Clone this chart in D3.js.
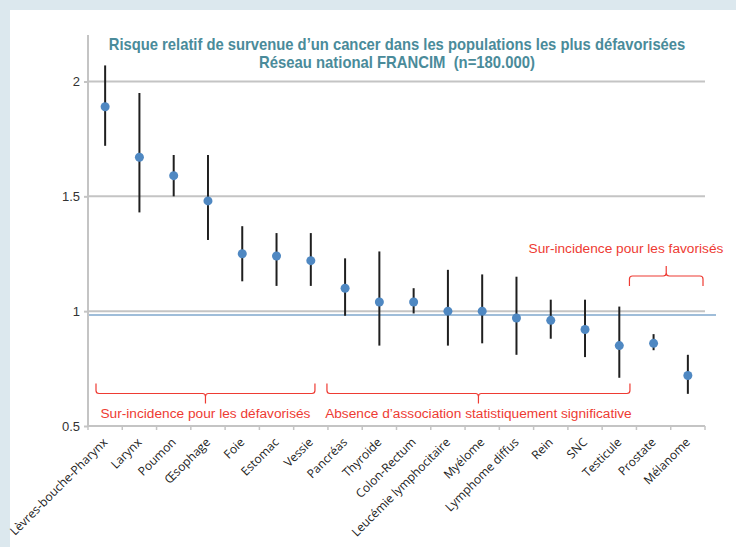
<!DOCTYPE html>
<html>
<head>
<meta charset="utf-8">
<script src="https://cdn.jsdelivr.net/npm/d3@7"></script>
<style>
  html, body { margin: 0; padding: 0; background: #dce8ee; }
  svg { display: block; }
</style>
</head>
<body>
<svg id="chart" width="736" height="547"></svg>
<script>
// Cancer sites, ordered by relative risk
const categories = [
  "Lèvres-bouche-Pharynx", "Larynx", "Poumon", "Œsophage", "Foie", "Estomac",
  "Vessie", "Pancréas", "Thyroide", "Colon-Rectum", "Leucémie lymphocitaire",
  "Myélome", "Lymphome diffus", "Rein", "SNC", "Testicule", "Prostate", "Mélanome"
];
// Relative risk (point estimate) and 95% confidence bounds
const rr    = [1.89, 1.67, 1.59, 1.48, 1.25, 1.24, 1.22, 1.10, 1.04, 1.04, 1.00, 1.00, 0.97, 0.96, 0.92, 0.85, 0.86, 0.72];
const lower = [1.72, 1.43, 1.50, 1.31, 1.13, 1.11, 1.11, 0.98, 0.85, 0.99, 0.85, 0.86, 0.81, 0.88, 0.80, 0.71, 0.83, 0.64];
const upper = [2.07, 1.95, 1.68, 1.68, 1.37, 1.34, 1.34, 1.23, 1.26, 1.10, 1.18, 1.16, 1.15, 1.05, 1.05, 1.02, 0.90, 0.81];
const yTicks = [0.5, 1, 1.5, 2];
const refValue = 0.983;

// Groups of sites marked with braces
const groups = [
  { label: "Sur-incidence pour les défavorisés", from: 0, to: 6 },
  { label: "Absence d’association statistiquement significative", from: 7, to: 15 },
  { label: "Sur-incidence pour les favorisés", from: 16, to: 17 }
];

const titleLines = [
  "Risque relatif de survenue d’un cancer dans les populations les plus défavorisées",
  "Réseau national FRANCIM  (n=180.000)"
];

(function () {
const svg = d3.select("#chart");
const W = 736, H = 547;
const plotL = 88, plotR = 705, plotT = 81.5, plotB = 426;

// white panel
svg.append("rect").attr("x", 10).attr("y", 10).attr("width", W - 10).attr("height", H - 10).attr("fill", "#fff");

const x = d3.scaleBand().domain(categories).range([plotL, plotR]).paddingInner(0).paddingOuter(0);
const y = d3.scaleLinear().domain([0.5, 2]).range([plotB, plotT]);
const cx = c => x(c) + x.bandwidth() / 2;

const gridColor = "#c4c4c4";

// horizontal grid lines
svg.append("g").selectAll("line").data(yTicks.filter(d => d > 0.5)).join("line")
  .attr("x1", plotL).attr("x2", plotR)
  .attr("y1", d => y(d)).attr("y2", d => y(d))
  .attr("stroke", gridColor).attr("stroke-width", 2);

// reference line
svg.append("line")
  .attr("x1", plotL).attr("x2", 716)
  .attr("y1", y(refValue)).attr("y2", y(refValue))
  .attr("stroke", "#7fa7cc").attr("stroke-width", 1.5);

// y axis
const yAxis = svg.append("g").attr("transform", `translate(${plotL},0)`)
  .call(d3.axisLeft(y).tickValues(yTicks).tickFormat(d3.format("")).tickSize(4).tickPadding(4));
yAxis.select(".domain").remove();
yAxis.selectAll(".tick line").attr("stroke", gridColor).attr("stroke-width", 2);
yAxis.selectAll(".tick text").attr("fill", "#333").attr("font-size", 13)
  .attr("font-family", "Liberation Sans, Arial, sans-serif");
svg.append("line").attr("x1", plotL).attr("x2", plotL).attr("y1", 35).attr("y2", plotB + 1)
  .attr("stroke", gridColor).attr("stroke-width", 2);

// x axis
svg.append("line").attr("x1", plotL).attr("x2", plotR).attr("y1", plotB).attr("y2", plotB)
  .attr("stroke", gridColor).attr("stroke-width", 2);
const boundaries = categories.map(c => x(c)).concat([plotR]);
svg.append("g").selectAll("line").data(boundaries).join("line")
  .attr("x1", d => d).attr("x2", d => d)
  .attr("y1", plotB).attr("y2", plotB + 4)
  .attr("stroke", gridColor).attr("stroke-width", 1.5);

svg.append("g").selectAll("text").data(categories).join("text")
  .attr("transform", d => `translate(${cx(d) + 3},${plotB + 17}) rotate(-45)`)
  .attr("text-anchor", "end")
  .attr("font-family", "Open Sans, sans-serif")
  .attr("font-size", 12)
  .attr("fill", "#222")
  .text(d => d);

// confidence intervals
const data = categories.map((c, i) => ({ c, rr: rr[i], lo: lower[i], hi: upper[i] }));
svg.append("g").selectAll("line").data(data).join("line")
  .attr("x1", d => cx(d.c)).attr("x2", d => cx(d.c))
  .attr("y1", d => y(d.lo)).attr("y2", d => y(d.hi))
  .attr("stroke", "#1f1f1f").attr("stroke-width", 2);

// point estimates
svg.append("g").selectAll("circle").data(data).join("circle")
  .attr("cx", d => cx(d.c))
  .attr("cy", d => y(d.rr))
  .attr("r", 4.5)
  .attr("fill", "#4f88c2");

// braces
const red = "#ee3b33";
function brace(x1, x2, yBar, dir) {
  // dir = 1 : ends point up, tip points down ; dir = -1 : the reverse
  const xm = (x1 + x2) / 2, h = 10 * dir, r = 3;
  return `M${x1},${yBar - h} L${x1},${yBar - r * dir} Q${x1},${yBar} ${x1 + r},${yBar}` +
    ` L${xm - r},${yBar} Q${xm},${yBar} ${xm},${yBar + r * dir} L${xm},${yBar + h}` +
    ` M${xm},${yBar + r * dir} Q${xm},${yBar} ${xm + r},${yBar} L${x2 - r},${yBar}` +
    ` Q${x2},${yBar} ${x2},${yBar - r * dir} L${x2},${yBar - h}`;
}
// brace extents and label placement for each group
const braceLayout = [
  { a: 8, b: -13, yBar: 393.5, dir: 1, ty: 417.5 },
  { a: -1, b: -6.5, yBar: 393.5, dir: 1, ty: 417.5 },
  { a: -7, b: -2, yBar: 276, dir: -1, ty: 253, tx: 626 }
];
groups.forEach((g, i) => {
  const L = braceLayout[i];
  const x1 = x(categories[g.from]) + L.a;
  const x2 = x(categories[g.to]) + x.bandwidth() + L.b;
  const xm = L.tx !== undefined ? L.tx : (x1 + x2) / 2;
  svg.append("path").attr("d", brace(x1, x2, L.yBar, L.dir))
    .attr("fill", "none").attr("stroke", red).attr("stroke-width", 1.2);
  svg.append("text").attr("x", xm).attr("y", L.ty).attr("text-anchor", "middle")
    .attr("font-family", "Liberation Sans, Arial, sans-serif").attr("font-size", 13.7)
    .attr("fill", red).text(g.label);
});

// title: a bold face compressed horizontally to a condensed look
const titleWidths = [577, 276];
svg.append("g").selectAll("text").data(titleLines).join("text")
  .attr("x", 0).attr("y", 0)
  .attr("text-anchor", "middle")
  .attr("xml:space", "preserve")
  .style("white-space", "pre")
  .attr("font-family", "Liberation Sans, Arial, sans-serif")
  .attr("font-weight", "bold")
  .attr("font-size", 17)
  .attr("fill", "#4a8b9a")
  .text(d => d)
  .each(function (d, i) {
    const k = titleWidths[i] / this.getComputedTextLength();
    d3.select(this).attr("transform", `translate(397,${50 + i * 17.7}) scale(${k},1)`);
  });
})();
</script>
</body>
</html>
